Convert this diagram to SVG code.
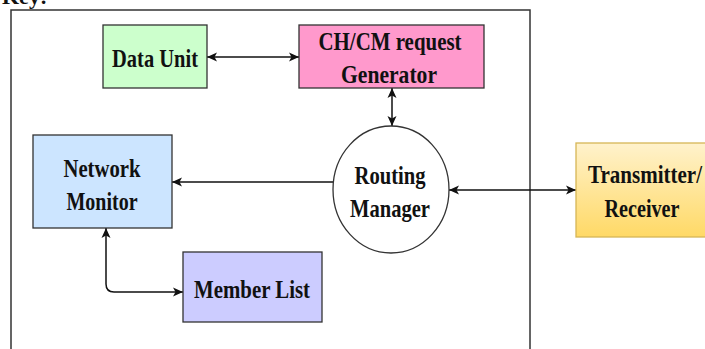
<svg xmlns="http://www.w3.org/2000/svg" width="705" height="349" viewBox="0 0 705 349">
  <style>
    .box { stroke: #333333; stroke-width: 1.3; }
    .lbl { font-family: "Liberation Serif", "Times New Roman", serif; font-weight: bold; font-size: 26px; fill: #111111; text-anchor: middle; }
    .wire { fill: none; stroke: #111111; stroke-width: 1.5; }
  </style>
  <defs>
    <marker id="arrow" viewBox="0 -5 12 10" refX="10" refY="0" markerWidth="12" markerHeight="10" markerUnits="userSpaceOnUse" orient="auto-start-reverse">
      <path d="M0,-4.5 L10,0 L0,4.5 L2.5,0 Z" fill="#111111"/>
    </marker>
    <linearGradient id="txGrad" x1="0" y1="0" x2="0" y2="1">
      <stop offset="0" stop-color="#fff2cc"/>
      <stop offset="1" stop-color="#ffd966"/>
    </linearGradient>
  </defs>

  <rect width="705" height="349" fill="#ffffff"/>

  <!-- heading, cut at the top edge -->
  <text x="2" y="4" font-family="Liberation Serif, serif" font-weight="bold" font-size="22" fill="#111111">Key:</text>

  <!-- node boundary -->
  <rect x="11" y="10" width="519" height="360" fill="none" stroke="#333333" stroke-width="1.5"/>

  <g id="connectors">
    <line class="wire" x1="207" y1="57" x2="299" y2="57" marker-start="url(#arrow)" marker-end="url(#arrow)"/>
    <line class="wire" x1="392" y1="88" x2="392" y2="126" marker-start="url(#arrow)" marker-end="url(#arrow)"/>
    <line class="wire" x1="333" y1="182" x2="172" y2="182" marker-end="url(#arrow)"/>
    <line class="wire" x1="449" y1="190" x2="576" y2="190" marker-start="url(#arrow)" marker-end="url(#arrow)"/>
    <path class="wire" d="M106,228 L106,284 Q106,292 114,292 L183,292" marker-start="url(#arrow)" marker-end="url(#arrow)"/>
  </g>

  <g id="data-unit">
    <rect class="box" x="103" y="25" width="104" height="63" fill="#ccffcc"/>
    <text class="lbl" x="155" y="67" textLength="86" lengthAdjust="spacingAndGlyphs">Data Unit</text>
  </g>

  <g id="request-generator">
    <rect class="box" x="299" y="25" width="185" height="63" fill="#ff99cc"/>
    <text class="lbl" x="390" y="50" textLength="143" lengthAdjust="spacingAndGlyphs">CH/CM request</text>
    <text class="lbl" x="389" y="83" textLength="96" lengthAdjust="spacingAndGlyphs">Generator</text>
  </g>

  <g id="routing-manager">
    <ellipse class="box" cx="391" cy="189.5" rx="58" ry="63.5" fill="#ffffff"/>
    <text class="lbl" x="390" y="184" textLength="71" lengthAdjust="spacingAndGlyphs">Routing</text>
    <text class="lbl" x="390" y="217" textLength="80" lengthAdjust="spacingAndGlyphs">Manager</text>
  </g>

  <g id="network-monitor">
    <rect class="box" x="33" y="135" width="139" height="93" fill="#cce5ff"/>
    <text class="lbl" x="102" y="177" textLength="77" lengthAdjust="spacingAndGlyphs">Network</text>
    <text class="lbl" x="102" y="210" textLength="71" lengthAdjust="spacingAndGlyphs">Monitor</text>
  </g>

  <g id="member-list">
    <rect class="box" x="183" y="252" width="139" height="70" fill="#ccccff"/>
    <text class="lbl" x="252" y="298" textLength="116" lengthAdjust="spacingAndGlyphs">Member List</text>
  </g>

  <g id="transmitter-receiver">
    <rect x="576" y="143" width="140" height="94" fill="url(#txGrad)" stroke="#d6b656" stroke-width="1.3"/>
    <text class="lbl" x="645" y="183" textLength="114" lengthAdjust="spacingAndGlyphs">Transmitter/</text>
    <text class="lbl" x="642" y="217" textLength="75" lengthAdjust="spacingAndGlyphs">Receiver</text>
  </g>
</svg>
